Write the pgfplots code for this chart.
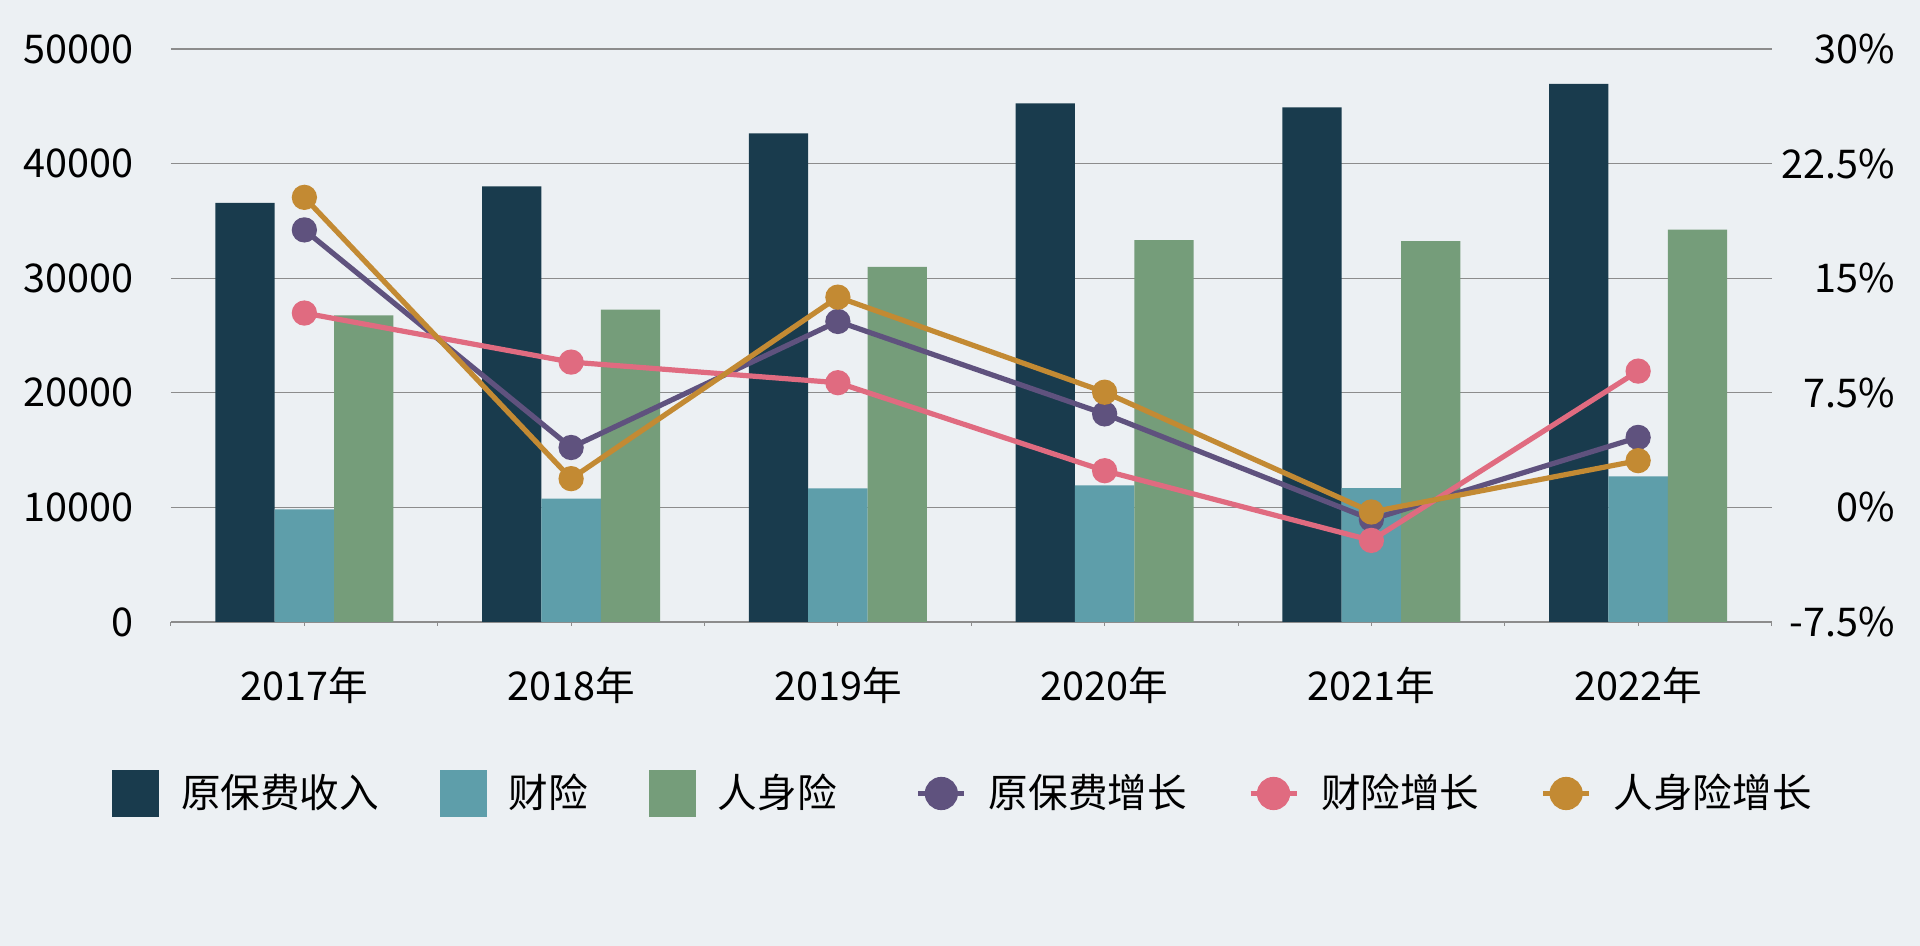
\documentclass[border=0pt]{standalone}
\usepackage{pgfplots}
\pgfplotsset{compat=1.18}
\usepackage{fontspec}
\setmainfont{Noto Sans CJK SC}
\definecolor{bg}{HTML}{ECF0F3}
\definecolor{cDark}{HTML}{193B4D}
\definecolor{cTeal}{HTML}{5E9EAA}
\definecolor{cGreen}{HTML}{759D7A}
\definecolor{cPurple}{HTML}{5F527E}
\definecolor{cPink}{HTML}{E06B80}
\definecolor{cGold}{HTML}{C38A33}
\definecolor{gridgray}{HTML}{8C8C8C}
\begin{document}
\fontsize{19.8pt}{24pt}\selectfont
\begin{tikzpicture}
\fill[bg] (-85.5pt,-162pt) rectangle (874.5pt,311pt);
\useasboundingbox (-85.5pt,-162pt) rectangle (874.5pt,311pt);
\begin{axis}[
  at={(0pt,0pt)}, anchor=south west,
  scale only axis, width=800.25pt, height=286.5pt,
  xmin=-0.5, xmax=5.5, ymin=0, ymax=50000,
  ybar=0pt, bar width=29.7pt,
  axis line style={draw=none},
  xtick={0,1,2,3,4,5},
  xticklabels={2017年,2018年,2019年,2020年,2021年,2022年},
  minor xtick={-0.5,0.5,1.5,2.5,3.5,4.5,5.5},
  xtick pos=bottom, tick align=outside,
  major x tick style={draw=gridgray, line width=0.5pt},
  minor x tick style={draw=gridgray, line width=0.5pt},
  major tick length=2pt, minor tick length=2pt,
  ytick={0,10000,20000,30000,40000,50000},
  ytick style={draw=none},
  ytick pos=left,
  ymajorgrids, grid style={draw=gridgray, line width=0.65pt},
  scaled y ticks=false,
  /pgf/number format/assume math mode=true,
  /pgf/number format/1000 sep={},
  yticklabel style={anchor=east, inner sep=0pt, xshift=-16.5pt, font=\fontsize{19.8pt}{24pt}\selectfont},
  xticklabel style={anchor=base, inner sep=0pt, yshift=-37.5pt, font=\fontsize{19.8pt}{24pt}\selectfont},
]
\addplot[fill=cDark, draw=none] coordinates {(0,36581) (1,38017) (2,42645) (3,45257) (4,44900) (5,46957)};
\addplot[fill=cTeal, draw=none] coordinates {(0,9835) (1,10770) (2,11649) (3,11929) (4,11671) (5,12712)};
\addplot[fill=cGreen, draw=none] coordinates {(0,26746) (1,27247) (2,30995) (3,33329) (4,33229) (5,34245)};
\end{axis}
\begin{axis}[
  at={(0pt,0pt)}, anchor=south west,
  scale only axis, width=800.25pt, height=286.5pt,
  xmin=-0.5, xmax=5.5, ymin=-7.5, ymax=30,
  axis line style={draw=none},
  xtick=\empty,
  ytick={-7.5,0,7.5,15,22.5,30},
  ytick pos=right,
  ytick style={draw=none},
  /pgf/number format/assume math mode=true,
  yticklabel={\pgfmathprintnumber{\tick}\%},
  yticklabel style={anchor=east, inner sep=0pt, xshift=62pt, font=\fontsize{19.8pt}{24pt}\selectfont},
  legend columns=6,
  legend style={at={(0.4955,-0.2993)}, anchor=center, draw=none, fill=none,
    font=\fontsize{19.8pt}{24pt}\selectfont,
    /tikz/every even column/.append style={column sep=28.5pt},
    /tikz/every odd column/.append style={column sep=9pt}},
]
\addlegendimage{legend image code/.code={\fill[cDark] (0pt,-11.5pt) rectangle (23pt,11.5pt);}}
\addlegendentry{原保费收入}
\addlegendimage{legend image code/.code={\fill[cTeal] (0pt,-11.5pt) rectangle (23pt,11.5pt);}}
\addlegendentry{财险}
\addlegendimage{legend image code/.code={\fill[cGreen] (0pt,-11.5pt) rectangle (23pt,11.5pt);}}
\addlegendentry{人身险}
\addplot[cPurple, line width=2.6pt, mark=*, mark size=5pt,
  legend image code/.code={\path (-9pt,0pt); \draw[cPurple, line width=2.6pt] (0pt,0pt) -- (23pt,0pt); \fill[cPurple] (11.5pt,0pt) circle (7pt);}]
  coordinates {(0,18.16) (1,3.92) (2,12.17) (3,6.12) (4,-0.79) (5,4.58)};
\addlegendentry{原保费增长}
\addplot[cPink, line width=2.6pt, mark=*, mark size=5pt,
  legend image code/.code={\draw[cPink, line width=2.6pt] (0pt,0pt) -- (23pt,0pt); \fill[cPink] (11.5pt,0pt) circle (7pt);}]
  coordinates {(0,12.72) (1,9.51) (2,8.16) (3,2.40) (4,-2.16) (5,8.92)};
\addlegendentry{财险增长}
\addplot[cGold, line width=2.6pt, mark=*, mark size=5pt,
  legend image code/.code={\draw[cGold, line width=2.6pt] (0pt,0pt) -- (23pt,0pt); \fill[cGold] (11.5pt,0pt) circle (7pt);}]
  coordinates {(0,20.29) (1,1.88) (2,13.76) (3,7.54) (4,-0.30) (5,3.06)};
\addlegendentry{人身险增长}
\end{axis}
\end{tikzpicture}
\end{document}
